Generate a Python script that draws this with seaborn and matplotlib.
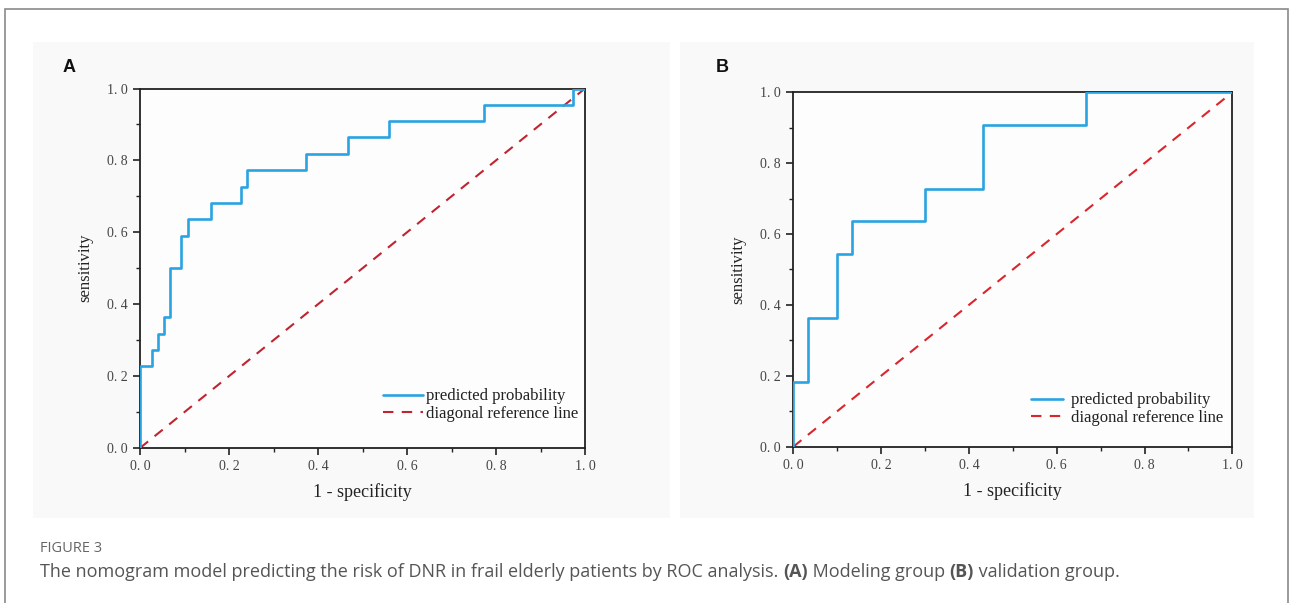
import numpy as np
import pandas as pd
import matplotlib
matplotlib.use("Agg")
import matplotlib.pyplot as plt
from matplotlib.patches import Rectangle
from matplotlib.ticker import MultipleLocator, FuncFormatter
import seaborn as sns

# ---- data ----
fpr_a = [0, 0, 0.027, 0.040, 0.053, 0.067, 0.093, 0.107, 0.160, 0.227, 0.240,
         0.373, 0.467, 0.560, 0.773, 0.973, 1.0]
tpr_a = [0, 0.227, 0.273, 0.318, 0.364, 0.500, 0.591, 0.636, 0.682, 0.727, 0.773,
         0.818, 0.864, 0.909, 0.955, 1.0, 1.0]
fpr_b = [0, 0, 0.033, 0.100, 0.133, 0.300, 0.433, 0.667, 1.0]
tpr_b = [0, 0.182, 0.364, 0.545, 0.636, 0.727, 0.909, 1.0, 1.0]
diag = [0.0, 1.0]
ticks = [0.0, 0.2, 0.4, 0.6, 0.8, 1.0]
panel_labels = ["A", "B"]
legend_labels = ["predicted probability", "diagonal reference line"]
xlabel = "1 - specificity"
ylabel = "sensitivity"
caption_head = "FIGURE 3"
caption_parts = [("The nomogram model predicting the risk of DNR in frail elderly patients by ROC analysis. ", "normal"),
                 ("(A)", "bold"), (" Modeling group ", "normal"), ("(B)", "bold"), (" validation group.", "normal")]

sns.set_theme(style="white")
plt.rcParams["font.family"] = ["Liberation Serif", "DejaVu Serif"]

W, H = 1292, 603
fig = plt.figure(figsize=(W / 100, H / 100), dpi=100)
fig.patch.set_facecolor("white")

def fx(px):
    return px / W

def fy(py):
    return 1 - py / H

# outer frame
fig.patches.append(Rectangle((fx(5), fy(640)), fx(1288) - fx(5), fy(9) - fy(640),
                             transform=fig.transFigure, fill=False,
                             edgecolor="#8a8a8a", lw=1.2, zorder=-2))
# panel image backgrounds
for (x0, x1) in [(33, 670), (680, 1254)]:
    fig.patches.append(Rectangle((fx(x0), fy(518)), fx(x1) - fx(x0), fy(42) - fy(518),
                                 transform=fig.transFigure, facecolor="#f9f9f9",
                                 edgecolor="none", zorder=-2))

axA = fig.add_axes([fx(140), fy(448), fx(585) - fx(140), fy(88.5) - fy(448)])
axB = fig.add_axes([fx(793.3), fy(446.7), fx(1232.3) - fx(793.3), fy(92.3) - fy(446.7)])

specs = [
    (axA, fpr_a, tpr_a, "#2aa3e2", "#bf2430", 2.4, 0.2, (0.985, 0.072)),
    (axB, fpr_b, tpr_b, "#2aa3e2", "#d9262c", 1.9, 0.5, (0.98, 0.058)),
]

for ax, fx_, ty_, c_line, c_diag, hl, htp, anchor in specs:
    ax.set_zorder(2)
    ax.set_facecolor("#fdfdfd")
    df = pd.DataFrame({"fpr": fx_, "tpr": ty_})
    sns.lineplot(data=df, x="fpr", y="tpr", ax=ax, estimator=None, sort=False,
                 color=c_line, lw=1.9, drawstyle="steps-post",
                 label=legend_labels[0], zorder=3)
    dd = pd.DataFrame({"x": diag, "y": diag})
    sns.lineplot(data=dd, x="x", y="y", ax=ax, estimator=None, sort=False,
                 color=c_diag, lw=1.5, label=legend_labels[1], zorder=2)
    ax.lines[-1].set_dashes((5, 4))
    ax.set_xlim(0, 1)
    ax.set_ylim(0, 1)
    ax.set_xticks(ticks)
    ax.set_yticks(ticks)
    ax.xaxis.set_minor_locator(MultipleLocator(0.1))
    ax.yaxis.set_minor_locator(MultipleLocator(0.1))
    fmt = FuncFormatter(lambda v, p: f"{v:.1f}".replace(".", ". "))
    ax.xaxis.set_major_formatter(fmt)
    ax.yaxis.set_major_formatter(fmt)
    ax.tick_params(which="major", direction="out", length=5, width=1.2, color="#222",
                   labelsize=10, labelcolor="#444", bottom=True, left=True, pad=4)
    ax.tick_params(which="minor", direction="out", length=3, width=1.0, color="#222",
                   bottom=True, left=True)
    for s in ax.spines.values():
        s.set_visible(True)
        s.set_color("#222")
        s.set_linewidth(1.3)
    ax.set_xlabel(xlabel, fontsize=13, color="#222", labelpad=7)
    ax.set_ylabel(ylabel, fontsize=12, color="#222", labelpad=10)
    leg = ax.legend(loc="lower right", bbox_to_anchor=anchor, frameon=False,
                    fontsize=12, handlelength=hl, handletextpad=htp,
                    borderpad=0, labelspacing=0.1, borderaxespad=0)
    for t in leg.get_texts():
        t.set_color("#222")

fig.text(fx(63), fy(67), panel_labels[0], fontsize=13, fontweight="bold",
         family="Liberation Sans", color="#111", va="center", ha="left")
fig.text(fx(716), fy(67), panel_labels[1], fontsize=13, fontweight="bold",
         family="Liberation Sans", color="#111", va="center", ha="left")

cap_font = ["Open Sans", "DejaVu Sans"]
fig.text(fx(40), fy(548), caption_head, fontsize=10.5, family=cap_font,
         color="#666", va="center", ha="left")

renderer = fig.canvas.get_renderer()
x = 40
for txt, wt in caption_parts:
    t = fig.text(fx(x), fy(572), txt, fontsize=12.95, family=cap_font, fontweight=wt,
                 color="#555", va="center", ha="left")
    bb = t.get_window_extent(renderer=renderer)
    x += bb.width

fig.savefig("out.png", dpi=100, facecolor="white")
